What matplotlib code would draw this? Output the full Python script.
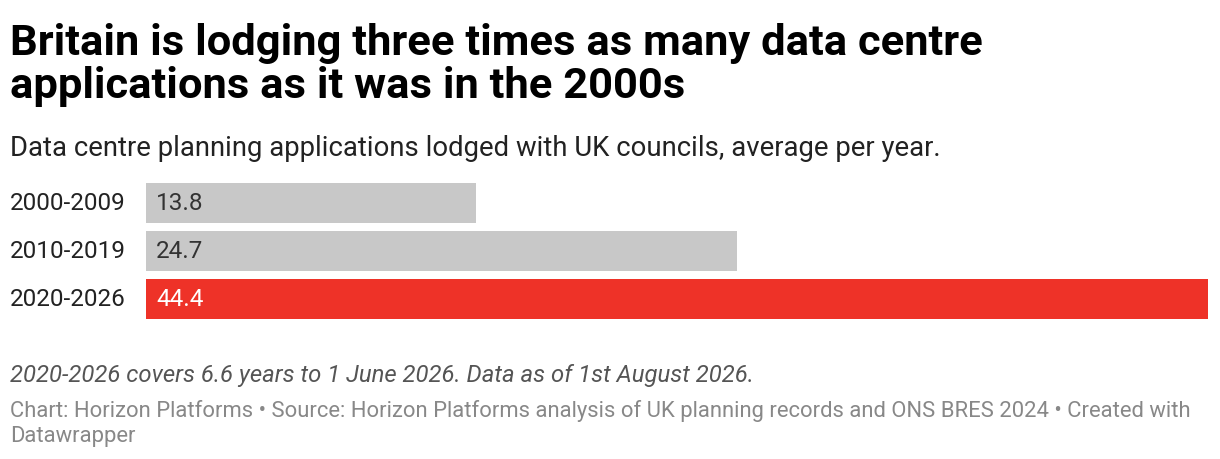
import matplotlib
matplotlib.use("Agg")
import matplotlib.pyplot as plt

periods = ["2000-2009", "2010-2019", "2020-2026"]
values = [13.8, 24.7, 44.4]
bar_colors = ["#c8c8c8", "#c8c8c8", "#ee3228"]
value_colors = ["#333333", "#333333", "#ffffff"]

title_lines = ["Britain is lodging three times as many data centre",
               "applications as it was in the 2000s"]
subtitle = "Data centre planning applications lodged with UK councils, average per year."
note = "2020-2026 covers 6.6 years to 1 June 2026. Data as of 1st August 2026."
source_lines = ["Chart: Horizon Platforms \u2022 Source: Horizon Platforms analysis of UK planning records "
                "and ONS BRES 2024 \u2022 Created with",
                "Datawrapper"]

W, H = 1220, 460
plt.rcParams["font.family"] = ["Roboto", "DejaVu Sans"]

fig = plt.figure(figsize=(W / 100, H / 100), dpi=100)


def px(x, y):
    return x / W, 1 - y / H


# bars area: left 146, right 1208, top 184, bottom 320
ax = fig.add_axes([146 / W, 1 - 320 / H, 1062 / W, 136 / H])
y = list(range(len(periods)))
ax.barh(y, values, height=40 / 48, color=bar_colors)
ax.set_xlim(0, max(values))
ax.set_ylim(2 + 20 / 48, -20 / 48)
ax.axis("off")

unit = 1062 / max(values)  # pixels per value unit
for i, (p, v) in enumerate(zip(periods, values)):
    ax.text(-20 / unit, i, p, ha="right", va="center", fontsize=17.5, color="#222222")
    ax.text(10 / unit, i, f"{v:.1f}", ha="left", va="center", fontsize=17.5, color=value_colors[i])

for line, base in zip(title_lines, [55, 98]):
    fig.text(*px(10, base), line, fontsize=31.3, fontweight="bold", color="#000000",
             va="baseline", ha="left")
fig.text(*px(10, 156), subtitle, fontsize=19.8, color="#222222", va="baseline", ha="left")
fig.text(*px(10, 382), note, fontsize=17.2, style="italic", color="#555555", va="baseline", ha="left")
for line, base in zip(source_lines, [417, 442]):
    fig.text(*px(10, base), line, fontsize=15.8, color="#888888", va="baseline", ha="left")

fig.savefig("out.png", dpi=100)
